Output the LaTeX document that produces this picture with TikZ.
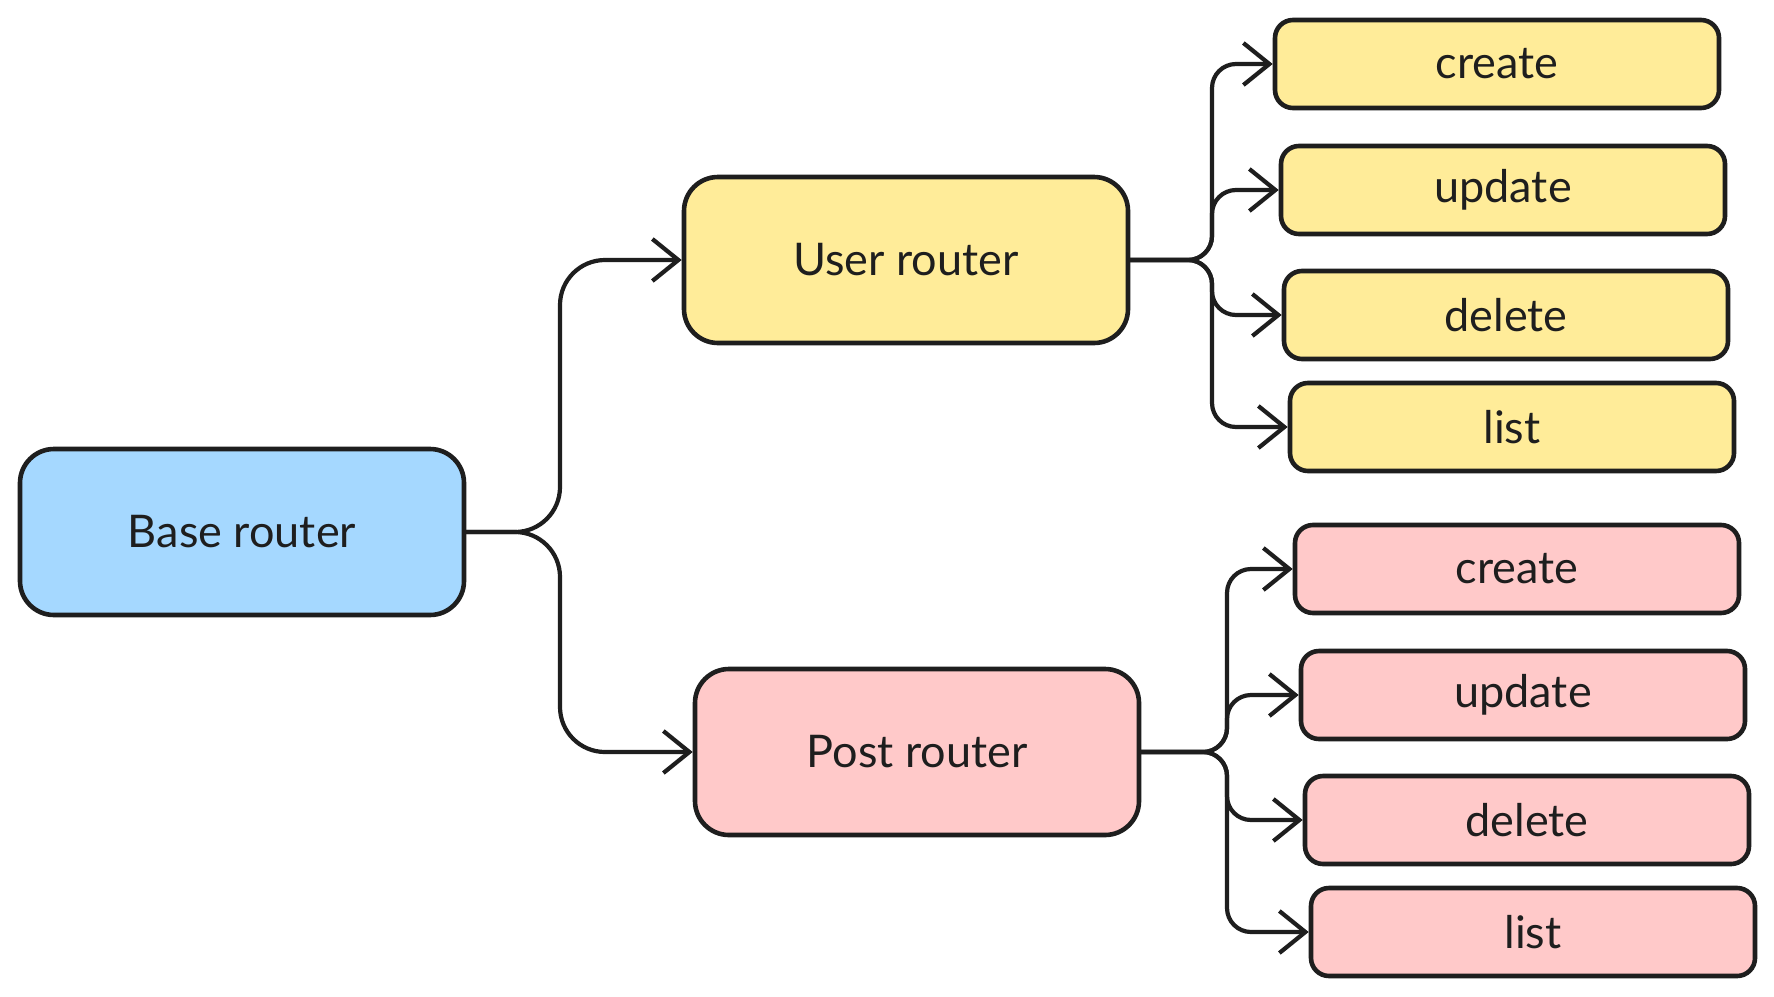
\documentclass[tikz,border=0pt]{standalone}
\usepackage{fontspec}
\setmainfont{Lato}
\usetikzlibrary{arrows.meta}
\definecolor{inkc}{HTML}{1E1E1E}
\definecolor{bluef}{HTML}{A5D8FF}
\definecolor{yellowf}{HTML}{FFEC99}
\definecolor{pinkf}{HTML}{FFC9C9}
\begin{document}
\begin{tikzpicture}[x=1pt,y=-1pt,
  box/.style={draw=inkc, line width=4.6pt, inner sep=0pt, align=center,
    font=\fontsize{45}{52}\selectfont, text=inkc},
  bigbox/.style={box, rounded corners=34pt, minimum width=444pt, minimum height=166pt},
  leafbox/.style={box, rounded corners=18pt, minimum width=444pt, minimum height=88pt},
  arr/.style={draw=inkc, line width=4.2pt, line cap=round,
    -{Straight Barb[length=26pt,width=42pt,line width=4.2pt]}},
]
\useasboundingbox[fill=white] (0,0) rectangle (1774,996);

\node[bigbox, fill=bluef] (base) at (242,532) {Base router};
\node[bigbox, fill=yellowf] (user) at (906,260) {User router};
\node[bigbox, fill=pinkf] (post) at (917,752) {Post router};

\node[leafbox, fill=yellowf] (uc) at (1497,64) {create};
\node[leafbox, fill=yellowf] (uu) at (1503,190) {update};
\node[leafbox, fill=yellowf] (ud) at (1506,315) {delete};
\node[leafbox, fill=yellowf] (ul) at (1512,427) {list};

\node[leafbox, fill=pinkf] (pc) at (1517,569) {create};
\node[leafbox, fill=pinkf] (pu) at (1523,695) {update};
\node[leafbox, fill=pinkf] (pd) at (1527,820) {delete};
\node[leafbox, fill=pinkf] (pl) at (1533,932) {list};

\coordinate (bj) at (560,532);
\coordinate (uj) at (1212,260);
\coordinate (pj) at (1227,752);

\draw[arr, rounded corners=45pt] (base.east) -- (bj) |- (user.west);
\draw[arr, rounded corners=45pt] (base.east) -- (bj) |- (post.west);

\draw[arr, rounded corners=24pt] (user.east) -- (uj) |- (uc.west);
\draw[arr, rounded corners=24pt] (user.east) -- (uj) |- (uu.west);
\draw[arr, rounded corners=24pt] (user.east) -- (uj) |- (ud.west);
\draw[arr, rounded corners=24pt] (user.east) -- (uj) |- (ul.west);

\draw[arr, rounded corners=24pt] (post.east) -- (pj) |- (pc.west);
\draw[arr, rounded corners=24pt] (post.east) -- (pj) |- (pu.west);
\draw[arr, rounded corners=24pt] (post.east) -- (pj) |- (pd.west);
\draw[arr, rounded corners=24pt] (post.east) -- (pj) |- (pl.west);
\end{tikzpicture}
\end{document}
